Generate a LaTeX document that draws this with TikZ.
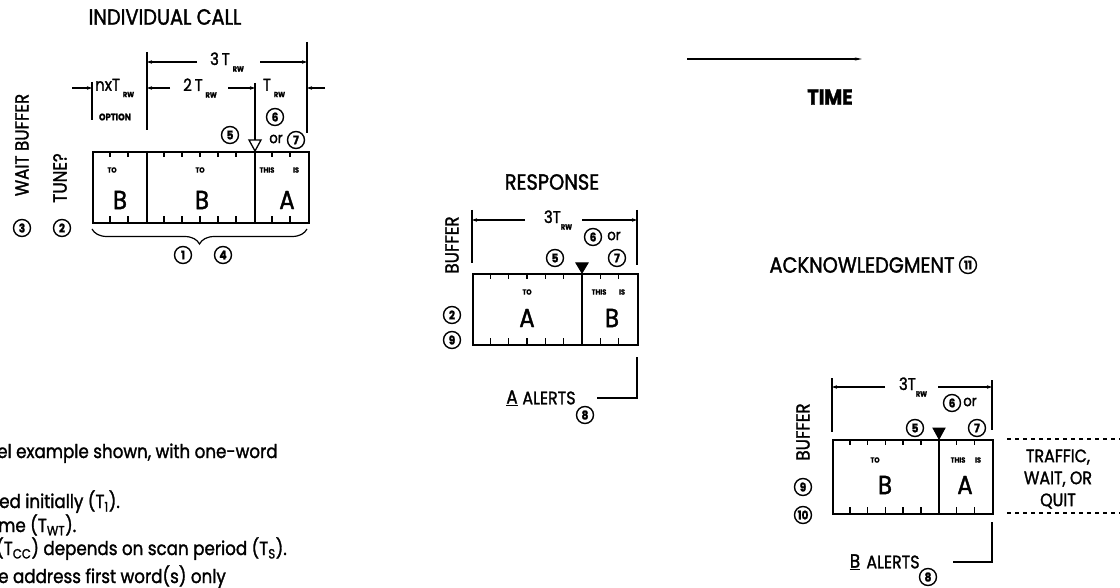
\documentclass[tikz,border=0pt]{standalone}
\usepackage{fontspec}
\setmainfont{Poppins}[FakeBold=1.5,FakeStretch=0.88]
\usetikzlibrary{arrows.meta,decorations.pathreplacing}
\newcommand\rwsub{\raisebox{-0.7ex}{\fontsize{7.5}{7.5}\selectfont\bfseries RW}}
\tikzset{
  boxl/.style={draw,line width=1.9pt},
  divl/.style={line width=1.5pt},
  tickl/.style={line width=1.5pt},
  dim/.style={line width=1.2pt},
  dimarr/.style={dim,-{Stealth[length=5pt,width=3.5pt]}},
  ttl/.style={font=\fontsize{22}{22}\selectfont,inner sep=0pt},
  big/.style={font=\fontsize{26}{26}\selectfont,inner sep=0pt},
  tinyl/.style={font=\fontsize{7.5}{7.5}\selectfont\bfseries,inner sep=0pt},
  dlab/.style={font=\fontsize{17}{17}\selectfont,inner sep=0pt},
  cnum/.style={circle,draw,line width=1.4pt,inner sep=0pt,minimum size=17pt,font=\fontsize{12}{12}\selectfont\bfseries},
  orl/.style={font=\fontsize{15}{15}\selectfont,inner sep=0pt},
  note/.style={font=\fontsize{19}{19}\selectfont,inner sep=0pt,anchor=base west},
  rlab/.style={rotate=90,font=\fontsize{19}{19}\selectfont,inner sep=0pt},
  dashl/.style={line width=1.2pt,dash pattern=on 4pt off 4pt}
}
\begin{document}
\begin{tikzpicture}[x=1pt,y=-1pt]
\useasboundingbox (0,0) rectangle (1120,588);

% ---------------- INDIVIDUAL CALL ----------------
\node[ttl] (ictitle) at (165,17) {INDIVIDUAL CALL};
\node[boxl,minimum width=216pt,minimum height=71pt,anchor=north west] (icbox) at (92,151) {};
\draw[divl] (147,151) -- (147,222);
\draw[divl] (255,151) -- (255,222);
\foreach \k in {1,2,4,5,6,7,8,10,11}{
  \draw[tickl] (92+18*\k,151) -- ++(0,6);
  \draw[tickl] (92+18*\k,222) -- ++(0,-6);
}
\node[tinyl] (icto1) at (112,170) {TO};
\node[tinyl] (icto2) at (200,170) {TO};
\node[tinyl] (icthis) at (267,170) {THIS};
\node[tinyl] (icis) at (296,170) {IS};
\node[big] (icB1) at (120,200) {B};
\node[big] (icB2) at (202,200) {B};
\node[big] (icA) at (287,200) {A};
% triangle
\draw[line width=1.3pt,fill=white] (249,140) -- (261,140) -- (255,151) -- cycle;
% vertical extension lines
\draw[dim] (92,82) -- (92,120);
\draw[dim] (147,52) -- (147,130);
\draw[dim] (255,83) -- (255,140);
\draw[dim] (307,42) -- (307,133);
% 3T row
\draw[dimarr] (197,62) -- (147,62);
\draw[dimarr] (260,62) -- (307,62);
\node[dlab] (ic3t) at (227,62) {3\,T\,\rwsub};
% second row
\draw[dimarr] (72,88) -- (92,88);
\node[dlab,anchor=west] (icnxt) at (95,88) {nxT\,\rwsub};
\node[font=\fontsize{9.5}{9.5}\selectfont\bfseries,inner sep=0pt] (icopt) at (115,117) {OPTION};
\draw[dimarr] (170,88) -- (147,88);
\node[dlab] (ic2t) at (200,88) {2\,T\,\rwsub};
\draw[dimarr] (228,88) -- (255,88);
\node[dlab] (ic1t) at (274,88) {T\,\rwsub};
\draw[dimarr] (325,88) -- (307,88);
% circled numbers
\node[cnum] (ic5) at (230,135) {5};
\node[cnum] (ic6) at (275,117) {6};
\node[orl] (icor) at (276,139) {or};
\node[cnum] (ic7) at (296,140) {7};
% left labels
\node[rlab] (icwait) at (22,145) {WAIT BUFFER};
\node[rlab] (ictune) at (60,178) {TUNE?};
\node[cnum] (ic3) at (22,228) {3};
\node[cnum] (ic2) at (62,228) {2};
% brace
\draw[dim,decorate,decoration={brace,amplitude=15pt,mirror}] (92,229) -- (307,229);
\node[cnum] (ic1) at (183,255) {1};
\node[cnum] (ic4) at (223,255) {4};

% ---------------- TIME ----------------
\coordinate (t0) at (687,59);
\coordinate (t1) at (862,59);
\draw[line width=1.6pt,-{Stealth[length=7pt,width=3pt]}] (t0) -- (t1);
\node[font=\fontsize{22}{22}\selectfont\bfseries,inner sep=0pt] (time) at (830,97) {TIME};

% ---------------- RESPONSE ----------------
\node[ttl] (rtitle) at (552,182) {RESPONSE};
\node[boxl,minimum width=165pt,minimum height=71pt,anchor=north west] (rbox) at (472,273) {};
\draw[divl] (582,273) -- (582,344);
\foreach \k in {1,2,3,4,5,7,8}{
  \draw[tickl] (472+18.33*\k,273) -- ++(0,6);
  \draw[tickl] (472+18.33*\k,344) -- ++(0,-6);
}
\node[tinyl] (rto) at (527,292) {TO};
\node[tinyl] (rthis) at (599,292) {THIS};
\node[tinyl] (ris) at (622,292) {IS};
\node[big] (rA) at (527,318) {A};
\node[big] (rB) at (612,318) {B};
\draw[line width=1pt,fill=black] (576,263) -- (588,263) -- (582,273) -- cycle;
\draw[dim] (472,210) -- (472,263);
\draw[dim] (637,210) -- (637,265);
\draw[dimarr] (525,220) -- (472,220);
\draw[dimarr] (582,220) -- (637,220);
\node[dlab] (r3t) at (558,220) {3T\rwsub};
\node[cnum] (r6) at (593,237) {6};
\node[orl] (ror) at (614,236) {or};
\node[cnum] (r5) at (555,258) {5};
\node[cnum] (r7) at (617,258) {7};
\node[rlab] (rbuf) at (452,245) {BUFFER};
\node[cnum] (r2) at (452,315) {2};
\node[cnum] (r9) at (452,340) {9};
% alerts
\node[font=\fontsize{19}{19}\selectfont,inner sep=0pt] (ralA) at (512,398) {\underline{A}};
\node[font=\fontsize{18}{18}\selectfont,inner sep=0pt] (ralerts) at (549,398) {ALERTS};
\node[cnum] (r8) at (585,415) {8};
\coordinate (ra1) at (637,357);
\coordinate (ra2) at (597,398);
\draw[line width=1.4pt] (ra1) |- (ra2);

% ---------------- ACKNOWLEDGMENT ----------------
\node[ttl] (atitle) at (862,265) {ACKNOWLEDGMENT};
\node[cnum] (a11) at (968,265) {11};
\node[boxl,minimum width=160pt,minimum height=74pt,anchor=north west] (abox) at (832,439) {};
\draw[divl] (939,439) -- (939,513);
\foreach \k in {1,2,3,4,5,7,8}{
  \draw[tickl] (832+17.8*\k,439) -- ++(0,6);
  \draw[tickl] (832+17.8*\k,513) -- ++(0,-6);
}
\node[tinyl] (ato) at (875,460) {TO};
\node[tinyl] (athis) at (958,460) {THIS};
\node[tinyl] (ais) at (978,460) {IS};
\node[big] (aB) at (885,485) {B};
\node[big] (aA) at (965,485) {A};
\draw[line width=1pt,fill=black] (933,428) -- (945,428) -- (939,439) -- cycle;
\draw[dim] (832,378) -- (832,432);
\draw[dim] (992,380) -- (992,430);
\draw[dimarr] (885,387) -- (832,387);
\draw[dimarr] (938,387) -- (992,387);
\node[dlab] (a3t) at (913,387) {3T\rwsub};
\node[cnum] (a6) at (952,403) {6};
\node[orl] (aor) at (970,402) {or};
\node[cnum] (a5) at (915,428) {5};
\node[cnum] (a7) at (977,428) {7};
\node[rlab] (abuf) at (803,432) {BUFFER};
\node[cnum] (a9) at (803,487) {9};
\node[cnum] (a10) at (803,515) {10};
\draw[dashl] (1007,439) -- (1120,439);
\draw[dashl] (1007,513) -- (1120,513);
\node[font=\fontsize{18}{22}\selectfont,align=center,inner sep=0pt] (traffic) at (1058,479) {TRAFFIC,\\WAIT, OR\\QUIT};
\node[font=\fontsize{19}{19}\selectfont,inner sep=0pt] (aalB) at (855,562) {\underline{B}};
\node[font=\fontsize{18}{18}\selectfont,inner sep=0pt] (aalerts) at (893,562) {ALERTS};
\node[cnum] (a8) at (928,577) {8};
\coordinate (aa1) at (992,522);
\coordinate (aa2) at (953,562);
\draw[line width=1.4pt] (aa1) |- (aa2);

% ---------------- notes ----------------
\node[note] (n1) at (-3,458) {el example shown, with one-word};
\node[note] (n2) at (-1,508) {ed initially (T\textsubscript{1}).};
\node[note] (n3) at (-2,532) {me (T\textsubscript{WT}).};
\node[note] (n4) at (-4,555) {(T\textsubscript{CC}) depends on scan period (T\textsubscript{S}).};
\node[note] (n5) at (-2,583) {e address first word(s) only};
\end{tikzpicture}
\end{document}
